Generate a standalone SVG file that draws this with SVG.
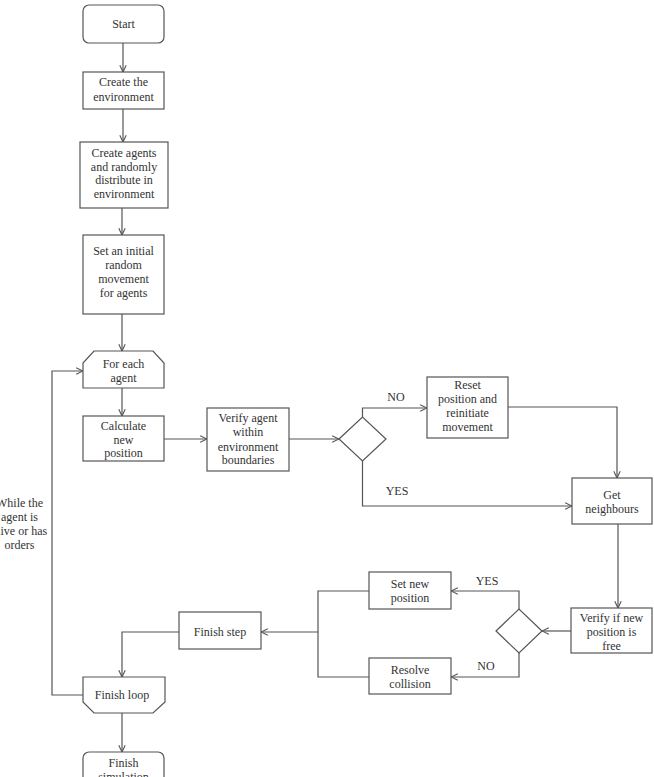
<svg xmlns="http://www.w3.org/2000/svg" width="654" height="777" viewBox="0 0 654 777">
<style>
.box{fill:#fff;stroke:#555;stroke-width:1.2}
.t{font-family:"Liberation Serif","Times New Roman",serif;font-size:12px;fill:#333;text-anchor:middle}
.c{fill:none;stroke:#555;stroke-width:1.2}
.a{marker-end:url(#arr)}
</style>
<defs>
<marker id="arr" viewBox="0 0 10 10" refX="9.5" refY="5" markerWidth="8" markerHeight="8" markerUnits="userSpaceOnUse" orient="auto">
<path d="M1,1 L9.5,5 L1,9" fill="none" stroke="#555" stroke-width="1.4"/>
</marker>
</defs>
<rect width="654" height="777" fill="#fff"/>
<g id="connectors">
<line class="c a" x1="123" y1="43" x2="123" y2="72"/>
<line class="c a" x1="123" y1="109" x2="123" y2="142"/>
<line class="c a" x1="122" y1="208" x2="122" y2="235"/>
<line class="c a" x1="122" y1="314" x2="122" y2="351"/>
<line class="c a" x1="122" y1="388" x2="122" y2="416"/>
<line class="c a" x1="164" y1="439" x2="207" y2="439"/>
<line class="c a" x1="289" y1="439" x2="339" y2="439"/>
<polyline class="c a" points="362.5,417 362.5,408 427,408"/>
<polyline class="c a" points="362.5,461 362.5,506 572,506"/>
<polyline class="c a" points="508,407 617,407 617,478"/>
<line class="c a" x1="618" y1="524" x2="618" y2="608"/>
<line class="c a" x1="571" y1="631" x2="542" y2="631"/>
<polyline class="c a" points="519,609 519,591 451,591"/>
<polyline class="c a" points="519,653 519,677 451,677"/>
<polyline class="c" points="369,591 318,591 318,677 369,677"/>
<line class="c a" x1="318" y1="632" x2="261" y2="632"/>
<polyline class="c a" points="179,632 122,632 122,677"/>
<polyline class="c a" points="83,695 52,695 52,371 83,371"/>
<line class="c a" x1="122" y1="713" x2="122" y2="752"/>
<text class="t" x="396" y="401">NO</text>
<text class="t" x="397" y="495">YES</text>
<text class="t" x="487" y="585">YES</text>
<text class="t" x="486" y="670">NO</text>
<text class="t" x="19.5" y="507">While the</text>
<text class="t" x="19.5" y="521">agent is</text>
<text class="t" x="19.5" y="535">alive or has</text>
<text class="t" x="19.5" y="549">orders</text>
</g>
<g id="start">
<rect class="box" x="83" y="5" width="81" height="38" rx="6"/>
<text class="t" x="123.5" y="28">Start</text>
</g>
<g id="create-env">
<rect class="box" x="83" y="72" width="81" height="37"/>
<text class="t" x="123.5" y="86">Create the</text>
<text class="t" x="123.5" y="101">environment</text>
</g>
<g id="create-agents">
<rect class="box" x="80" y="142" width="88" height="66"/>
<text class="t" x="124" y="157">Create agents</text>
<text class="t" x="124" y="170.5">and randomly</text>
<text class="t" x="124" y="184">distribute in</text>
<text class="t" x="124" y="198">environment</text>
</g>
<g id="set-initial">
<rect class="box" x="83" y="235" width="81" height="79"/>
<text class="t" x="123.5" y="255">Set an initial</text>
<text class="t" x="123.5" y="268.5">random</text>
<text class="t" x="123.5" y="283">movement</text>
<text class="t" x="123.5" y="297">for agents</text>
</g>
<g id="for-each">
<path class="box" d="M94,351 L153,351 L164,363 L164,388 L83,388 L83,363 Z"/>
<text class="t" x="123.5" y="368">For each</text>
<text class="t" x="123.5" y="382">agent</text>
</g>
<g id="calculate">
<rect class="box" x="83" y="416" width="81" height="45"/>
<text class="t" x="123.5" y="430">Calculate</text>
<text class="t" x="123.5" y="444">new</text>
<text class="t" x="123.5" y="457">position</text>
</g>
<g id="verify-agent">
<rect class="box" x="207" y="408" width="82" height="63"/>
<text class="t" x="248" y="422">Verify agent</text>
<text class="t" x="248" y="436">within</text>
<text class="t" x="248" y="451">environment</text>
<text class="t" x="248" y="464">boundaries</text>
</g>
<g id="decision1">
<path class="box" d="M339,439 L362.5,417 L386,439 L362.5,461 Z"/>
</g>
<g id="reset">
<rect class="box" x="427" y="377" width="81" height="61"/>
<text class="t" x="467.5" y="389">Reset</text>
<text class="t" x="467.5" y="403">position and</text>
<text class="t" x="467.5" y="417">reinitiate</text>
<text class="t" x="467.5" y="431">movement</text>
</g>
<g id="get-neighbours">
<rect class="box" x="572" y="478" width="80" height="46"/>
<text class="t" x="612" y="499">Get</text>
<text class="t" x="612" y="513">neighbours</text>
</g>
<g id="verify-free">
<rect class="box" x="571" y="608" width="81" height="45"/>
<text class="t" x="611.5" y="622">Verify if new</text>
<text class="t" x="611.5" y="636">position is</text>
<text class="t" x="611.5" y="650">free</text>
</g>
<g id="decision2">
<path class="box" d="M496,631 L519,609 L542,631 L519,653 Z"/>
</g>
<g id="set-new">
<rect class="box" x="369" y="572" width="82" height="37"/>
<text class="t" x="410" y="588">Set new</text>
<text class="t" x="410" y="602">position</text>
</g>
<g id="resolve">
<rect class="box" x="369" y="658" width="82" height="36"/>
<text class="t" x="410" y="674">Resolve</text>
<text class="t" x="410" y="688">collision</text>
</g>
<g id="finish-step">
<rect class="box" x="179" y="612" width="82" height="37"/>
<text class="t" x="220" y="636">Finish step</text>
</g>
<g id="finish-loop">
<path class="box" d="M83,677 L165,677 L165,702 L153,713 L94,713 L83,702 Z"/>
<text class="t" x="122" y="699">Finish loop</text>
</g>
<g id="finish-sim">
<rect class="box" x="83" y="752" width="81" height="40" rx="6"/>
<text class="t" x="123.5" y="767">Finish</text>
<text class="t" x="123.5" y="781">simulation</text>
</g>
</svg>
